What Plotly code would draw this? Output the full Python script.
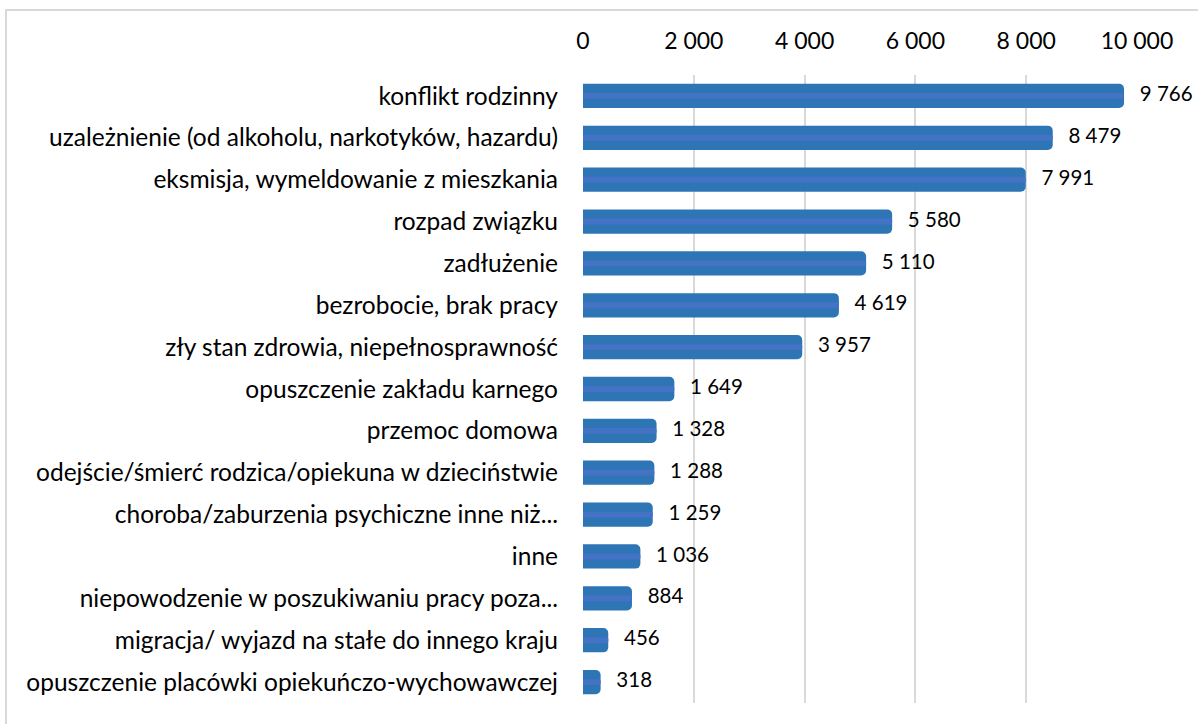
import plotly.graph_objects as go

categories = [
    "konflikt rodzinny",
    "uzależnienie (od alkoholu, narkotyków, hazardu)",
    "eksmisja, wymeldowanie z mieszkania",
    "rozpad związku",
    "zadłużenie",
    "bezrobocie, brak pracy",
    "zły stan zdrowia, niepełnosprawność",
    "opuszczenie zakładu karnego",
    "przemoc domowa",
    "odejście/śmierć rodzica/opiekuna w dzieciństwie",
    "choroba/zaburzenia psychiczne inne niż...",
    "inne",
    "niepowodzenie w poszukiwaniu pracy poza...",
    "migracja/ wyjazd na stałe do innego kraju",
    "opuszczenie placówki opiekuńczo-wychowawczej",
]
values = [9766, 8479, 7991, 5580, 5110, 4619, 3957, 1649, 1328, 1288, 1259, 1036, 884, 456, 318]
tick_values = [0, 2000, 4000, 6000, 8000, 10000]

def fmt(v):
    return f"{v:,}".replace(",", " ")

labels = ["\u00a0\u00a0\u00a0" + fmt(v) for v in values]
tick_text = [fmt(v) for v in tick_values]

FONT = "Lato"
W, H = 1198, 724
L, R, T, B = 583, 61, 75, 21
pw, ph = W - L - R, H - T - B

fig = go.Figure()
fig.add_trace(go.Bar(
    x=values, y=categories, orientation="h",
    marker=dict(color="#2e75b6", line=dict(width=0)),
    width=0.58, hoverinfo="skip",
))
fig.add_trace(go.Bar(
    x=values, y=categories, orientation="h",
    marker=dict(color="#4472c4", line=dict(width=0)),
    width=0.14, hoverinfo="skip",
))
fig.add_trace(go.Scatter(
    x=values, y=categories, mode="text", text=labels,
    textposition="middle right",
    textfont=dict(family=FONT, size=20.5, color="#000000"),
    cliponaxis=False, hoverinfo="skip",
))

def px_x(p):
    return (p - L) / pw

def px_y(p):
    return (H - B - p) / ph

fig.add_shape(type="rect", xref="paper", yref="paper",
              x0=px_x(6), x1=px_x(1210), y0=px_y(740), y1=px_y(10),
              line=dict(color="#d9d9d9", width=2), layer="below")

n = len(categories)
fig.update_layout(
    width=W, height=H,
    margin=dict(l=L, r=R, t=T, b=B, autoexpand=False),
    paper_bgcolor="#ffffff", plot_bgcolor="#ffffff",
    showlegend=False, barmode="overlay", barcornerradius=5,
    font=dict(family=FONT, color="#000000"),
    xaxis=dict(
        side="top", range=[0, 10000], tickvals=tick_values, ticktext=tick_text,
        showgrid=True, gridcolor="#d9d9d9", gridwidth=1.5, zeroline=False,
        showline=False, ticks="", tickfont=dict(family=FONT, size=23, color="#000000"),
        ticklabelstandoff=20,
    ),
    yaxis=dict(
        range=[n - 0.5, -0.5], showgrid=False, showline=False, ticks="",
        tickfont=dict(family=FONT, size=24.5, color="#000000"),
        ticklabelstandoff=24,
    ),
)

fig.write_html("out.html", config={"displayModeBar": False},
               post_script="document.body.style.margin='0';")
